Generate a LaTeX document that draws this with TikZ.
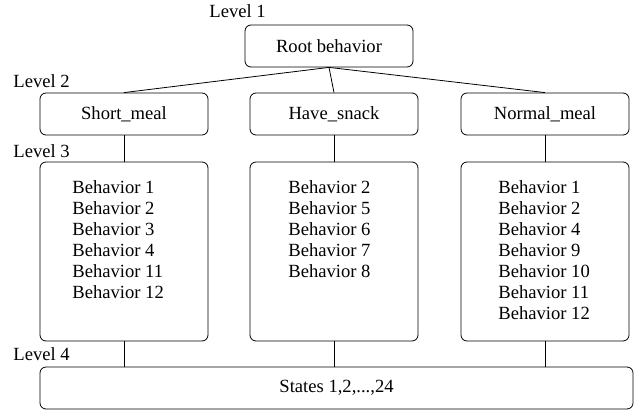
\documentclass[tikz,border=0pt]{standalone}
\usepackage{fontspec}
\setmainfont{Liberation Serif}
\usetikzlibrary{positioning}
\tikzset{
	box/.style={draw,rectangle,rounded corners=6pt,inner sep=0pt,minimum width=168pt,minimum height=42pt},
	tall/.style={box,minimum height=179pt},
	lvl/.style={anchor=base west,inner sep=0pt},
	list/.style={anchor=north west,align=left,inner sep=0pt},
	every node/.style={font=\fontsize{18.6}{21}\selectfont}
}

\begin{document}
\begin{tikzpicture}[x=1pt,y=-1pt,line width=0.8pt]
  \useasboundingbox (0,0) rectangle (636,411);
  % levels
  \node[lvl] (lv1) at (209,18) {Level 1};
  \node[lvl] (lv2) at (13,88) {Level 2};
  \node[lvl] (lv3) at (13,158) {Level 3};
  \node[lvl] (lv4) at (13,360) {Level 4};
  % tree
  \node[box] (root) at (329,46) {Root behavior};
  \node[box] (short) at (124,114) {Short\_meal};
  \node[box] (snack) at (334,114) {Have\_snack};
  \node[box] (normal) at (545,114) {Normal\_meal};
  \node[tall] (bshort) at (124,251.5) {};
  \node[tall] (bsnack) at (334,251.5) {};
  \node[tall] (bnormal) at (545,251.5) {};
  \node[box,minimum width=593pt] (states) at (336.5,388) {States 1,2,...,24};
  \node[list] (lshort) at (72,180) {Behavior 1\\Behavior 2\\Behavior 3\\Behavior 4\\Behavior 11\\Behavior 12};
  \node[list] (lsnack) at (288,180) {Behavior 2\\Behavior 5\\Behavior 6\\Behavior 7\\Behavior 8};
  \node[list] (lnormal) at (498,180) {Behavior 1\\Behavior 2\\Behavior 4\\Behavior 9\\Behavior 10\\Behavior 11\\Behavior 12};
  \draw (root.south) -- (short.north);
  \draw (root.south) -- (snack.north);
  \draw (root.south) -- (normal.north);
  \foreach \n in {short,snack,normal} {
    \draw (\n.south) -- (b\n.north);
    \draw (b\n.south) -- (b\n.south |- states.north);
  }
\end{tikzpicture}
\end{document}
